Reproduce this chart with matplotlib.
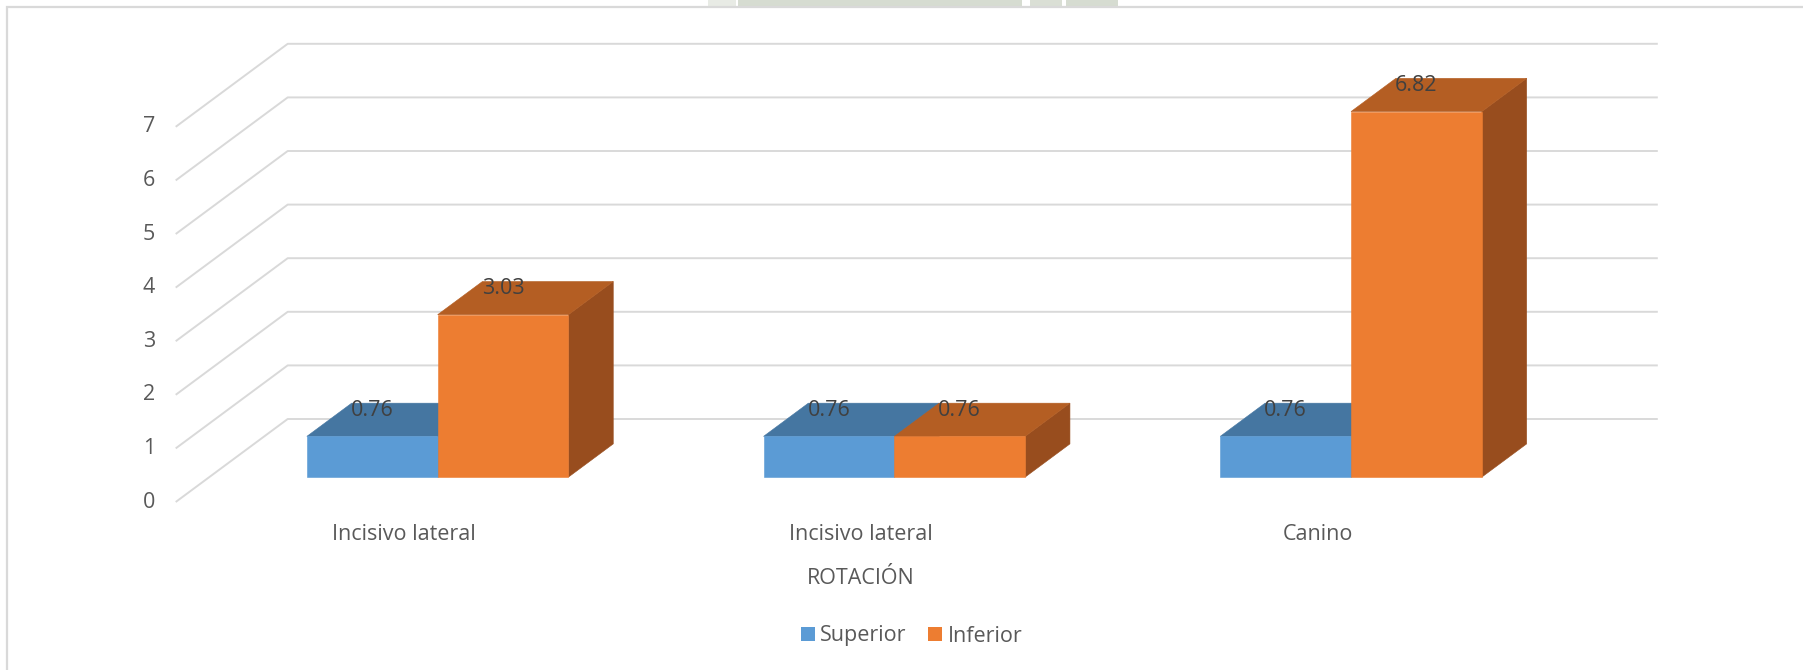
import matplotlib
matplotlib.use("Agg")
import matplotlib.pyplot as plt
from matplotlib.patches import Polygon, Rectangle, Patch

# chart data
categories = ["Incisivo lateral", "Incisivo lateral", "Canino"]
superior = [0.76, 0.76, 0.76]
inferior = [3.03, 0.76, 6.82]
series_names = ["Superior", "Inferior"]
y_ticks = [0, 1, 2, 3, 4, 5, 6, 7]
axis_title = "ROTACIÓN"

# face colours: front, top, side
blue = ("#5B9BD5", "#4576A1", "#3E6A92")
orange = ("#ED7D31", "#B45E23", "#984D1E")
grid_col = "#D9D9D9"
text_col = "#595959"

plt.rcParams['font.family'] = ['Open Sans', 'DejaVu Sans']

W, H, DPI = 1803, 670, 100
fig = plt.figure(figsize=(W / DPI, H / DPI), dpi=DPI)
fig.patch.set_facecolor("white")
ax = fig.add_axes([0, 0, 1, 1])
ax.set_axis_off()

# front plane: value 0 sits on pixel row 502, 53.6 px per unit,
# each category 456.7 px wide starting at column 175.7
x0, cat_px = 175.7, 456.7
y0, val_px = 502.0, 53.6
ax.set_xlim(-x0 / cat_px, (W - x0) / cat_px)
ax.set_ylim(-(H - y0) / val_px, y0 / val_px)

# oblique offset from the front plane to the back wall
DX, DY = 112 / cat_px, 83 / val_px


def proj(u, v, z):
    return (u + z * DX, v + z * DY)


# walls: diagonal on the side wall, then across the back wall
n_cat = len(categories)
for v in y_ticks:
    pts = [proj(0, v, 0), proj(0, v, 1), proj(n_cat, v, 1)]
    ax.plot([p[0] for p in pts], [p[1] for p in pts], color=grid_col,
            lw=1.4, zorder=1, solid_capstyle="butt")
    ax.text(-0.0585, v, str(v), ha="center", va="center", fontsize=15.5,
            color=text_col)

bar_w = 0.2864
z0, z1 = 0.30, 0.70


def draw_bar(left, h, cols):
    right = left + bar_w
    front = [proj(left, 0, z0), proj(right, 0, z0), proj(right, h, z0), proj(left, h, z0)]
    top = [proj(left, h, z0), proj(right, h, z0), proj(right, h, z1), proj(left, h, z1)]
    side = [proj(right, 0, z0), proj(right, 0, z1), proj(right, h, z1), proj(right, h, z0)]
    for pts, c in ((side, cols[2]), (top, cols[1]), (front, cols[0])):
        ax.add_patch(Polygon(pts, closed=True, facecolor=c, edgecolor=c,
                             lw=0.4, zorder=2))
    lx = left + bar_w / 2 + z0 * DX
    ly = h + z0 * DY + 0.48
    ax.text(lx, ly, f"{h:.2f}", ha="center", va="center", fontsize=15.5,
            color="#404040", zorder=3)


for i in range(n_cat):
    c = i + 0.5
    draw_bar(c - bar_w, superior[i], blue)
    draw_bar(c, inferior[i], orange)
    ax.text(c, (y0 - 534) / val_px, categories[i], ha="center", va="center",
            fontsize=15.5, color=text_col)

ax.text(n_cat / 2, (y0 - 579) / val_px, axis_title, ha="center", va="center",
        fontsize=15.5, color=text_col)

handles = [Patch(facecolor=blue[0], edgecolor="none"),
           Patch(facecolor=orange[0], edgecolor="none")]
leg = fig.legend(handles, series_names, loc="center",
                 bbox_to_anchor=(911.5 / W, 1 - 636 / H), ncol=2, frameon=False,
                 fontsize=15.5, handlelength=0.66, handleheight=0.66,
                 handletextpad=0.25, columnspacing=1.0, borderpad=0)
for t in leg.get_texts():
    t.set_color(text_col)

# faint page watermark peeking in above the chart frame
for xa, xb, col in ((708, 736, "#E8EBE5"), (738, 1022, "#D6DCD1"),
                    (1030, 1062, "#DADFD5"), (1066, 1118, "#D6DCD1")):
    fig.add_artist(Rectangle((xa / W, 1 - 5.5 / H), (xb - xa) / W, 5.5 / H,
                             transform=fig.transFigure, facecolor=col,
                             edgecolor="none"))

# chart area outline (only left and top edges fall inside the image)
fig.add_artist(Rectangle((7.3 / W, -0.1), 1.2, 1.1 - 6.7 / H,
                         transform=fig.transFigure, fill=False,
                         edgecolor=grid_col, lw=1.6))

fig.savefig("out.png", dpi=DPI, facecolor="white")
